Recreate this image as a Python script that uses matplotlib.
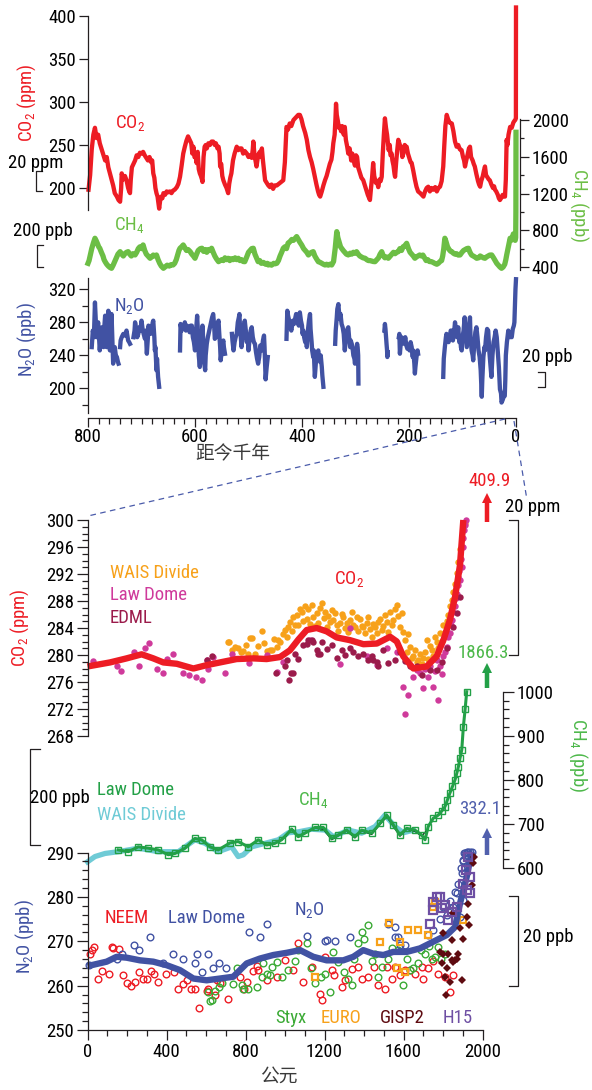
import os
import numpy as np
import matplotlib
matplotlib.use("Agg")
import matplotlib.pyplot as plt
from matplotlib import font_manager

NaN = np.nan

# ---------------- top panel: last 800 kyr (age in kyr BP) ----------------
co2_top = np.array([
    [799,198],[796,215],[793,245],[790,262],[787,270],[784,258],[781,262],[778,252],[775,246],[772,240],
    [768,232],[765,236],[762,224],[759,217],[756,210],[753,203],[750,194],[746,190],[743,186],[740,184],
    [738,200],[737,217],[734,210],[731,214],[728,209],[725,200],[723,196],[721.5,194],[720,210],[718,224],
    [715,228],[712,232],[709,238],[706,236],[703,241],[700,240],[697,242],[694,238],[691,235],[688,232],
    [685,236],[682,230],[680,232],[678,217],[676,212],[674,200],[672,194],[670,190],[668,180],[667,176],
    [665,186],[663,190],[661,188],[659,194],[656,192],[653,196],[650,195],[647,196],[644,194],[641,197],
    [638,198],[634,201],[631,205],[628,213],[625,226],[622,240],[619,248],[616,255],[613,260],[610,256],
    [607,252],[605,240],[603,248],[601,236],[599,238],[597,229],[595,242],[593,222],[591,217],[589,214],
    [587,210],[586,207],[584,236],[582,248],[580,250],[578,246],[575,252],[572,250],[569,254],[566,254],
    [563,250],[561,252],[558,246],[556,248],[554,240],[553,225],[551,228],[549,214],[547,209],[544,204],
    [541,200],[538,194],[536,205],[534,212],[532,217],[529,232],[526,240],[524,244],[522,248],[519,244],
    [516,246],[513,246],[510,240],[507,243],[503,240],[500,236],[497,238],[494,235],[492,245],[491,254],
    [489,240],[487,232],[485,225],[482,238],[479,242],[477,236],[475,246],[473,232],[471,220],[469,209],
    [466,206],[463,203],[460,201],[457,204],[454,199],[451,203],[447,203],[443,205],[439,207],[435,209],
    [432,230],[430,258],[429,271],[426,268],[423,275],[420,272],[416,279],[413,281],[410,283],[407,285],
    [404,285],[401,280],[398,272],[394,264],[391,256],[388,244],[385,236],[382,230],[379,222],[376,213],
    [373,204],[370,196],[368,192],[366,190],[363,196],[360,203],[357,209],[354,214],[351,221],[348,228],
    [345,233],[343,242],[341.5,252],[339,262],[337.5,280],[336.4,298],[335,285],[333,278],[331,270],[329,271],
    [327,266],[325,272],[322,262],[320,271],[318,256],[315.5,248],[313.5,240],[311,246],[308,232],[306,240],
    [304,233],[301,226],[299,238],[297,236],[295,224],[292,218],[289,212],[285.5,209],[283,204],[280,198],
    [277,192],[275,189],[273,186],[271,200],[269,212],[267,229],[265,214],[262,206],[260,208],[257.5,201],
    [255,210],[253,208],[251,213],[249,240],[247,262],[245,281],[243,270],[241,262],[239,250],[238,244],
    [236,250],[234.5,238],[232.5,240],[231,232],[229,226],[227,216],[226,213],[224,230],[222,244],[220,256],
    [218,252],[217,250],[214,246],[212.5,236],[210.6,240],[208,250],[206,244],[204.4,248],[202,240],[200,236],
    [197,230],[195,229],[192,220],[189,210],[186,201.5],[183,196],[179,194],[176,192],[173,190],[170,196],
    [167,200],[164,201.5],[161,196],[158,200],[154.6,198],[151,201],[148,196],[145,200],[142,201.5],[139,208],
    [136,225],[134,250],[132,272],[129.5,285],[127,280],[124,276],[120,275],[117,266],[114,254],[111,248],
    [108,250],[105,245],[101.7,244],[99,236],[97,232],[95.3,225],[93,232],[90,240],[88,246],[86,248],
    [84,236],[81,232],[79,228],[77,225],[74,216],[71,208],[69,204],[67,201.5],[65,208],[62,214],
    [60,220],[58,225],[56,215],[53,212],[51,210],[49,209],[46,204],[43,200],[41,202],[39.3,198],
    [37,196],[34,192],[32,188],[30,186],[28,188],[25,192],[22,190],[20.6,190],[19,210],[17.5,256],
    [16,250],[14,262],[12,268],[11,271],[8,270],[5,276],[3,278],[1.5,279],[0.2,281],[0,409.9],
])

ch4_top = np.array([
    [800,440],[798,470],[796,520],[793,600],[790,660],[787,713],[785,690],[782,650],[780,620],[778,604],
    [775,560],[772,520],[770,480],[768,458],[765,430],[762,410],[759,395],[756,386],[753,420],[750,460],
    [747,500],[744,540],[740,567],[737,540],[734,520],[731,545],[728,560],[725,567],[722,540],[719,520],
    [716,545],[712,531],[709,560],[706,600],[703,620],[700,600],[697,640],[694,580],[691,540],[688,520],
    [684,495],[681,510],[678,530],[675,520],[672,531],[669,480],[666,440],[663,410],[659,386],[656,400],
    [652,420],[648,410],[645,425],[641,422],[638,440],[635,480],[632,540],[630,580],[628,604],[625,620],
    [622,640],[619,610],[616,580],[613,590],[609,567],[606,540],[603,520],[600,495],[597,540],[594,580],
    [590,600],[587,604],[584,570],[581,590],[578,560],[575,590],[572,580],[569,604],[566,560],[563,520],
    [560,490],[556,458],[553,470],[550,480],[547,470],[544,500],[541,480],[538,495],[535,470],[532,490],
    [529,480],[525,500],[522,480],[519,495],[516,470],[513,480],[510,460],[507,458],[504,500],[500,560],
    [497,580],[494,600],[491,604],[488,540],[485,500],[482,458],[479,470],[476,440],[472,450],[468,430],
    [465,440],[463,422],[460,430],[457,420],[453,440],[450,435],[447,441],[444,470],[441,520],[438,560],
    [435,604],[432,620],[429,600],[426,660],[422.5,676],[419,700],[416,690],[413,710],[410,731],[407,700],
    [404,670],[400.6,640],[397,600],[394,580],[391,560],[388,531],[385,550],[382,560],[379,567],[376,520],
    [373,490],[369.5,458],[366,450],[363,440],[360,430],[357,422],[354,430],[351,420],[348,430],[344.5,422],
    [341,460],[338,600],[336,720],[335,785],[333,720],[330,660],[328,620],[326,604],[323,580],[320,560],
    [317,540],[313.5,531],[310,550],[307,540],[304,560],[301,550],[298,567],[295,540],[292,520],[289,510],
    [286,500],[282,495],[279,480],[276,470],[273,470],[270,465],[267,460],[263.5,458],[260,480],[257,500],
    [254,540],[251,567],[248,520],[245,500],[242,510],[238.7,495],[235,520],[232,540],[229,560],[226,545],
    [223,560],[220,567],[217,600],[214,580],[211,620],[208,630],[204.4,658],[201,600],[198,560],[195,540],
    [192,520],[189,495],[186,510],[183,520],[180,531],[177,520],[174,530],[171,500],[168,470],[165,480],
    [162,460],[158,458],[155,450],[152,440],[148,430],[145,441],[142,460],[139,470],[137,520],[135,600],
    [133,713],[131,680],[128,620],[125,590],[122,570],[120,567],[117,550],[114,540],[111,545],[108,530],
    [104.6,531],[101,560],[98,580],[95,590],[92,600],[89,604],[86,560],[83,530],[80,520],[77,510],
    [73.5,495],[70,500],[67,520],[64,510],[61,500],[58,495],[55,510],[52,520],[49,530],[45.4,531],
    [42,500],[39,470],[36,440],[33,420],[30,400],[27,386],[24,400],[21,430],[19,480],[17.4,531],
    [15,600],[13,660],[11,713],[9,690],[7,700],[5,760],[3,700],[1.5,690],[0.6,720],[0.2,1000],[0,1866.3],
])

n2o_top = np.array([
    [793,250],[791,270],[789,262],[787,304],[786,290],[784,262],[783,272],[781,280],[779,258],[778,246],
    [776,262],[774,274],[773,258],[771,250],[770,270],[768,288],[767,270],[765,250],[764,262],[762,294],
    [761,280],[759,246],[758,265],[756,290],[755,270],[753,230],[752,246],[750,250],[748,240],[746,238],
    [744,232],[743,230],[NaN,NaN],
    [740,250],[739,258],[737,262],[734,266],[731,264],[728,270],[726,262],[725,258],[723,256],[721.5,254],
    [NaN,NaN],
    [715,262],[713,270],[712,280],[710,272],[708,262],[706,266],[704,274],[702,270],[700,282],[698,272],
    [696,266],[693.5,260],[692,270],[690,242],[688,262],[687,276],[685,268],[683,266],[681,272],[679,280],
    [678,282],[676,262],[675,246],[674,250],[672,222],[671,236],[669,214],[668,208],[667,202],[NaN,NaN],
    [628,246],[627,278],[625,270],[623,276],[621,272],[619,280],[617,270],[615,276],[612,274],[610,268],
    [608,276],[606,276],[604,262],[602,256],[600,246],[598,270],[596,288],[594,262],[593,240],[591,226],
    [589,250],[588,262],[586,276],[584,250],[583,232],[581,222],[580,240],[578,254],[576,262],[574,268],
    [572,274],[570,280],[568,286],[566,290],[564,274],[563,260],[561,262],[559,272],[558,278],[556,282],
    [555,270],[553,250],[552,234],[550,246],[548,256],[547,258],[546,250],[544,242],[NaN,NaN],
    [531,266],[530,258],[528,246],[526,256],[524,262],[522,266],[520,280],[518,286],[517,290],[516,276],
    [514,258],[513,250],[511,262],[509,274],[507,282],[505,270],[503,256],[501,262],[500,246],[498,260],
    [496,270],[494,274],[492,262],[490,256],[488,254],[486,244],[484,236],[482,230],[480,238],[478,252],
    [477,250],[475,246],[473,258],[471,264],[470,250],[469,230],[468,211],[466,226],[464,238],[NaN,NaN],
    [429,260],[428,280],[427.5,294],[426,288],[424,282],[422,276],[420,270],[419,274],[417,282],[415,278],
    [413,284],[411,290],[410,286],[408,280],[406,276],[404,292],[402,282],[400,276],[399,266],[397.6,270],
    [396,262],[394,256],[392,262],[391,250],[389,270],[387,282],[385,290],[384,272],[382,256],[381,246],
    [379,238],[378,246],[376,214],[374,232],[372,240],[371,244],[369.5,246],[368,236],[366,232],[365,240],
    [363,226],[362,216],[360,202],[NaN,NaN],
    [338,254],[337,270],[335,286],[334,296],[332,302],[331,294],[329,284],[328,290],[326,278],[324,274],
    [322,266],[321,256],[320,246],[318,262],[316,270],[315,272],[313.5,274],[312,262],[310,250],[309,258],
    [307,254],[305,246],[304,240],[302,236],[301,230],[299,244],[298,250],[297,254],[296,250],[295,240],
    [294.5,206],[NaN,NaN],
    [246,270],[245,278],[244,272],[243,262],[242,254],[241,246],[240.5,238],[240,244],[NaN,NaN],
    [219,262],[218,266],[217,242],[216,250],[214,262],[212,256],[210.6,258],[209,254],[207,262],[205,252],
    [203,248],[201,250],[199,246],[197,256],[195,250],[193,238],[192,246],[190,230],[189,218],[188,226],
    [186,238],[184,246],[183,242],[NaN,NaN],
    [136,214],[135,236],[133,250],[131,262],[130,266],[128,262],[126,256],[124,262],[122,270],[120,270],
    [118,258],[116,266],[114,280],[112,270],[110,262],[108,274],[106,256],[104,262],[103,250],[101.5,246],
    [100,262],[98,270],[96,286],[94,268],[92,250],[90,262],[88,274],[86,286],[85,262],[83,246],
    [81,240],[80,234],[78,254],[76,268],[74,274],[72,262],[70,246],[68,238],[66,222],[64,190],
    [63,210],[61,238],[59,250],[58,246],[56,262],[54,272],[52,270],[50,246],[48,230],[46,214],
    [44,240],[42,256],[40,262],[38,270],[36,262],[34,244],[32,226],[30,199],[28,194],[27,183],
    [25,186],[23,190],[21,191],[20,210],[19,240],[17,256],[15,266],[14.4,270],[13,264],[11,262],
    [9,268],[8,262],[6,272],[4,276],[3,280],[2,300],[1,320],[0,332.1],
])

# ---------------- bottom panel: year CE ----------------
co2_spline = np.array([
    [0,278.3],[114,278.9],[198,279.5],[274,280.1],[333,279.5],[384,278.9],[452,278.7],[536,278.0],
    [604,278.5],[671,278.9],[755,279.4],[840,279.5],[907,279.4],[975,279.7],[1025,280.7],[1068,282.3],
    [1110,283.7],[1160,284.0],[1211,283.5],[1262,282.6],[1329,282.2],[1397,281.6],[1465,281.7],[1532,282.7],
    [1566,282.0],[1599,279.8],[1650,278.0],[1717,278.3],[1768,279.8],[1802,282.2],[1835,285.2],[1861,288.6],
    [1886,293.3],[1903,300.0],
])
co2_wais = np.array([
    [713,282],[715,281.9],[730,280.7],[745,281.2],[763,281],[775,280.4],[789,280.6],[800,281.5],[814,280.2],
    [823,282.5],[831,282.5],[848,280.2],[865,281.4],[882,283.6],[895,281.8],[907,280.6],[924,280.7],[933,280.7],
    [945,282.4],[958,281.2],[966,282.2],[975,282],[990,283.1],[1000,283.7],[1009,282.7],[1017,284.1],
    [1025,284.9],[1034,283.6],[1042,285.7],[1051,284.4],[1059,285.9],[1068,284.5],[1076,286.8],[1085,286.4],
    [1093,285],[1101,287.2],[1110,285.4],[1118,286.8],[1127,284.6],[1135,287.4],[1143,285.6],[1152,284.3],
    [1160,286.2],[1169,284.8],[1177,286.9],[1186,287.7],[1195,285.5],[1203,286.4],[1212,284.1],[1220,285.8],
    [1228,284.9],[1237,286.6],[1245,285.2],[1253,286.2],[1262,284.5],[1270,283.6],[1278,284.7],[1287,286.1],
    [1295,285.6],[1304,284],[1312,284.8],[1321,283.4],[1329,285.2],[1338,286.3],[1346,284.4],[1354,284.2],
    [1363,285.7],[1371,283.6],[1380,285.3],[1388,284.3],[1397,284.1],[1405,283.2],[1413,284.7],[1422,285.6],
    [1430,283.8],[1439,282.7],[1447,284.6],[1456,284.1],[1464,283.3],[1472,284.9],[1481,285.4],[1490,283.7],
    [1498,284.3],[1506,285.9],[1515,284.9],[1523,283.4],[1532,286.4],[1540,284.4],[1549,285.2],[1557,286.8],
    [1566,287.4],[1574,285.8],[1582,284.2],[1591,286.2],[1599,283.4],[1608,282.2],[1616,280.5],[1625,283.1],
    [1633,281.2],[1642,279.5],[1650,279.8],[1658,280.8],[1667,278.9],[1675,279.3],[1684,280.1],[1692,278.6],
    [1700,279.5],[1709,280.4],[1717,282.2],[1726,279.4],[1734,281.3],[1743,280.7],[1751,279.9],[1759,282.6],
    [1768,282],[1776,281],[1785,283.2],[1793,282.1],[1802,284.4],[1810,283.4],[1819,285.1],[1827,285.9],
    [1835,287.3],[1844,288.2],[1852,289.4],[1861,290.5],[1869,292.1],[1878,293.8],[1886,295.7],[1895,297.2],
    [1903,298.6],[1911,299.6],
])
co2_lawdome = np.array([
    [29,279.1],[148,278.3],[170,277.7],[235,280.5],[262,278.4],[291,281],[313,281.8],[354,277.9],[381,277.4],
    [401,279.4],[431,280.1],[482,277.3],[516,277],[549,276.8],[578,276.3],[604,279.3],[612,278],[634,279.7],
    [698,277.3],[730,280.2],[819,278.8],[907,280],[958,277.5],[991,279],[1127,282.2],[1278,278.7],[1329,284],
    [1413,279.8],[1465,278.5],[1515,281],[1566,280.5],[1599,275.3],[1608,271.3],[1624,274.1],[1650,276.8],
    [1667,277.8],[1684,277.3],[1700,275.1],[1709,277.9],[1725,276.8],[1734,278.4],[1751,275.3],[1759,277.6],
    [1776,273.3],[1768,279.3],[1785,278.3],[1793,277.2],[1802,279.8],[1810,280.4],[1819,281.2],[1827,282.6],
    [1835,283.2],[1840,284.5],[1844,285.2],[1852,286.4],[1861,287.2],[1865,288.4],[1869,289.1],[1874,290.3],
    [1878,291.5],[1882,292.5],[1886,291.1],[1890,294.2],[1895,293.1],[1899,296],[1903,297.4],[1907,298.5],
    [1911,299.3],[1915,300],
])
co2_edml = np.array([
    [604,279.3],[629,279.8],[955,277.4],[1000,278.3],[1009,279.3],[1022,276.3],[1030,277.3],[1039,277.3],
    [1051,280.2],[1068,279.4],[1093,281.5],[1110,281.7],[1118,282.2],[1135,282.2],[1143,282],[1160,280.7],
    [1169,280.2],[1177,280.2],[1186,282],[1211,280.9],[1236,281.5],[1262,279.6],[1287,280.7],[1304,280],
    [1329,281],[1346,280.5],[1371,279.8],[1397,280.2],[1422,279.3],[1439,279.8],[1447,279.3],[1465,279],
    [1472,278.3],[1498,280.7],[1523,278.8],[1557,279.3],[1582,280.5],[1608,279.1],[1633,278.3],[1667,278.3],
    [1692,277],[1734,277.8],[1768,277.8],[1793,279],[1819,281],[1852,284.2],[1869,286.2],[1886,288.6],
])

ch4_lawdome = np.array([
    [156,641],[207,637],[257,648],[308,645],[358,641],[409,630],[443,633],[494,645],[544,667],[578,664],
    [620,648],[662,641],[722,657],[763,660],[814,648],[865,664],[907,652],[949,656],[983,664],[1034,688],
    [1067,671],[1101,679],[1152,692],[1194,692],[1236,667],[1270,675],[1312,686],[1354,671],[1388,686],
    [1439,679],[1481,701],[1515,720],[1548,698],[1582,675],[1616,690],[1658,686],[1692,675],[1709,664],
    [1725,694],[1751,713],[1776,720],[1793,729],[1810,739],[1822,754],[1835,770],[1848,785],[1861,800],
    [1870,815],[1878,830],[1886,849],[1895,868],[1903,920],[1912,960],[1920,1000],
])
ch4_wais = np.array([
    [0,614],[38,626],[89,633],[156,637],[257,645],[358,637],[460,637],[544,664],[595,656],[662,637],
    [730,648],[763,626],[789,630],[831,648],[899,656],[966,664],[1017,680],[1067,682],[1135,688],[1203,686],
    [1245,671],[1321,686],[1388,679],[1456,694],[1506,720],[1557,694],[1600,680],[1650,686],
])
ch4_other = np.array([
    [1000,668],[1034,690],[1067,672],[1101,680],[1152,690],[1194,688],[1236,664],[1270,673],[1312,684],
    [1354,668],[1388,684],[1439,676],[1481,699],[1515,716],[1548,695],[1582,672],[1616,688],[1658,683],
    [1692,672],[1725,690],
])

n2o_spline = np.array([
    [0,264.4],[97,265.4],[148,266.5],[198,266.3],[266,265.7],[333,265.4],[401,264.6],[468,263.5],[536,261.6],
    [603,261.2],[671,261.6],[738,262],[806,265],[873,266.1],[941,266.9],[1009,267.4],[1076,268],[1143,266.5],
    [1211,265.7],[1295,265.7],[1346,266.5],[1396,268],[1447,267.2],[1498,266.9],[1548,267.6],[1616,267.6],
    [1684,268.4],[1751,269.9],[1819,271.4],[1861,273.2],[1886,278.5],[1920,284.5],[1945,290.2],
])
n2o_neem = np.array([
    [13,267.2],[21,268],[34,268.6],[55,261.6],[72,263.3],[110,262.6],[122,268.6],[128,268.5],[161,268.2],
    [181,262.3],[199,260.7],[220,260],[240,260.8],[259,263.1],[279,261.6],[300,261.6],[320,263.3],[337,262.6],
    [357,260.9],[398,262.7],[438,263],[458,259.3],[482,260.3],[502,261.2],[522,259.2],[546,259.3],[566,254.9],
    [604,258.9],[612,259.3],[646,257.8],[654,261.2],[671,260.6],[713,257],[772,262],[790,259.3],[806,260.8],
    [840,263.3],[857,264.4],[865,263.5],[907,261.2],[958,262],[1000,265.7],[1042,263.5],[1067,269.6],
    [1093,260.8],[1135,264.2],[1177,258.2],[1186,256.7],[1200,266.5],[1236,263.5],[1250,262.3],[1287,259.7],
    [1304,261.2],[1340,263.8],[1371,264.2],[1390,261.5],[1422,262],[1450,264.3],[1472,260.1],[1506,259.3],
    [1515,264.2],[1540,261.4],[1557,264.2],[1580,262.3],[1608,263.5],[1633,263.5],[1658,262.7],[1692,264.2],
    [1700,261.6],[1726,263.9],[1750,265.5],[1776,262.7],[1810,262],[1835,258.5],[1852,262.5],
])
n2o_styx = np.array([
    [612,258.6],[620,256.5],[629,256.7],[646,258.8],[667,259.7],[680,260.5],[738,260.3],[755,263.9],
    [781,260.1],[789,259.3],[814,259.3],[857,259.7],[882,262],[890,265],[907,262.7],[924,262.3],[933,264.2],
    [958,265.3],[983,262],[1017,263.5],[1050,265.5],[1067,268],[1110,269.5],[1130,264],[1152,260.5],
    [1180,262],[1203,262.7],[1230,258.5],[1245,267.6],[1270,265.3],[1300,263],[1321,261.6],[1338,260.1],
    [1350,266],[1371,269.5],[1388,272.1],[1400,270.5],[1422,273.6],[1440,265.5],[1456,267.2],[1470,262],
    [1490,264.2],[1523,266.1],[1540,268.5],[1574,268],[1599,260.1],[1620,266],[1633,263.5],[1650,264],
    [1675,265],[1690,268],[1709,267.2],[1730,269],[1743,266.1],[1760,266.5],[1776,268.7],[1790,266],
    [1810,267.2],
])
n2o_lawdome = np.array([
    [9,264.6],[148,266.1],[173,267.1],[237,269.1],[262,268.1],[315,271],[381,265.1],[435,267.1],[485,266],
    [544,265],[553,267.1],[578,263.1],[612,267.1],[634,264],[667,265],[700,264],[819,272.1],[873,271],
    [910,274],[1110,271.2],[1203,270.1],[1211,270.2],[1253,270.1],[1329,271],[1523,274],[1557,273.3],
    [1557,271],[1574,271],[1582,269.1],[1608,269.1],[1726,271.4],[1751,272.5],[1785,275],[1802,277.8],
    [1819,276],[1835,279],[1852,277.8],[1861,281],[1869,280.8],[1878,283],[1886,275.5],[1890,286.5],
    [1895,285.3],[1899,288],[1903,288.3],[1903,279.3],[1907,290],[1911,289.8],[1920,290.2],[1928,290.2],
    [1937,290.2],[1945,290.2],
])
n2o_euro = np.array([
    [1152,262],[1481,269.9],[1528,274.2],[1566,263.9],[1582,269.9],[1608,263.1],[1625,272.5],[1675,272.5],
    [1726,271.4],[1751,277.8],[1759,278.9],[1903,274.8],
])
n2o_gisp2 = np.array([
    [1785,267.6],[1793,265],[1802,267.2],[1802,271.8],[1810,262],[1815,257.8],[1819,263.9],[1827,267.2],
    [1835,260.8],[1844,265.7],[1844,270.3],[1852,265.4],[1852,276.3],[1861,265.7],[1869,266.1],[1878,267.2],
    [1886,272.9],[1895,261.2],[1903,270.6],[1920,275.5],[1928,278.5],[1933,273.6],[1945,282.7],[1953,287.6],
    [1955,289],
])
n2o_h15 = np.array([
    [1734,274],[1751,277],[1751,278.9],[1768,280],[1785,280],[1793,277.4],[1810,278.1],[1827,274.8],
    [1844,276.6],[1869,277.8],[1899,283],[1916,286],[1920,281.5],[1937,280.8],[1937,284.5],[1928,289],
])

# ---------------- style ----------------
RED = "#ED1C24"
GREEN_T = "#6CBE45"
BLUE = "#4152A3"
ORANGE = "#F7A11A"
MAGENTA = "#CF3A9B"
MAROON = "#9B1B4B"
DGREEN = "#23A047"
CYAN = "#6FCBD6"
SGREEN = "#3BAA35"
GMAROON = "#5E0B10"
PURPLE = "#6E4FA3"
INK = "#231F20"


def narrow_font():
    # a condensed sans face, if one is installed
    wanted = ["liberationsansnarrow-regular", "arialn.", "arialnarrow.", "notosans-condensed.",
              "opensans-condensedregular", "opensans_condensed-regular", "roboto-condensed",
              "robotocondensed-regular", "dejavusanscondensed."]
    files = [f.fname for f in font_manager.fontManager.ttflist]
    for w in wanted:
        for fn in files:
            if w in os.path.basename(fn).lower():
                return fn
    return None


nf = narrow_font()
if nf:
    font_manager.fontManager.addfont(nf)
    FONT = font_manager.FontProperties(fname=nf).get_name()
    plt.rcParams["font.stretch"] = "condensed"
    FS = 13.5
else:
    FONT, FS = "Liberation Sans", 12
plt.rcParams["font.family"] = [FONT, "DejaVu Sans"]
plt.rcParams["axes.linewidth"] = 0.9

W, H = 592, 1090
fig = plt.figure(figsize=(W / 100, H / 100), dpi=100)
PX = 0.72  # points per pixel


def px_axes(x0, x1, y0, y1):
    return fig.add_axes([x0 / W, 1 - y1 / H, (x1 - x0) / W, (y1 - y0) / H])


def style(ax, sides):
    ax.patch.set_visible(False)
    for s in ["top", "right", "left", "bottom"]:
        ax.spines[s].set_visible(s in sides)
        ax.spines[s].set_color(INK)
    ax.tick_params(colors=INK, labelcolor="black", labelsize=FS, width=0.9)
    if "bottom" not in sides:
        ax.set_xticks([])
    if "left" not in sides and "right" not in sides:
        ax.set_yticks([])


# --- top CO2
ax1 = px_axes(88, 516, 16, 210)
style(ax1, ["left"])
ax1.set_xlim(800, 0)
ax1.set_ylim(174.4, 400)
ax1.set_yticks([200, 250, 300, 350, 400])
ax1.tick_params(axis="y", direction="out", length=9 * PX, pad=2)
ax1.plot(co2_top[:, 0], co2_top[:, 1], color=RED, lw=3.1, clip_on=False, solid_joinstyle="round")

# --- top CH4
ax2 = px_axes(88, 516, 118, 272)
style(ax2, ["right"])
ax2.set_xlim(800, 0)
ax2.set_ylim(345.6, 2021.8)
ax2.spines["right"].set_position(("outward", 4 * PX))
ax2.spines["right"].set_bounds(365, 2015)
ax2.yaxis.tick_right()
ax2.set_yticks([400, 800, 1200, 1600, 2000])
ax2.set_yticks([600, 1000, 1400, 1800], minor=True)
ax2.tick_params(axis="y", which="major", length=9 * PX, pad=2)
ax2.tick_params(axis="y", which="minor", length=4 * PX, width=0.9, colors=INK)
ax2.plot(ch4_top[:, 0], ch4_top[:, 1], color=GREEN_T, lw=3.8, clip_on=False, solid_joinstyle="round")

# --- top N2O + age axis
ax3 = px_axes(88, 516, 275, 418)
style(ax3, ["left", "bottom"])
ax3.set_xlim(800, 0)
ax3.set_ylim(164.3, 337.2)
ax3.spines["left"].set_bounds(170.3, 333.6)
ax3.set_yticks([200, 240, 280, 320])
ax3.set_yticks([180, 220, 260, 300], minor=True)
ax3.tick_params(axis="y", which="major", length=9 * PX, pad=2)
ax3.tick_params(axis="y", which="minor", length=6 * PX, width=0.9, colors=INK)
ax3.set_xticks([800, 600, 400, 200, 0])
ax3.set_xticks(np.arange(20, 800, 20), minor=True)
ax3.tick_params(axis="x", which="major", length=9 * PX, pad=1)
ax3.tick_params(axis="x", which="minor", length=5.5 * PX, width=0.9, colors=INK)
ax3.plot(n2o_top[:, 0], n2o_top[:, 1], color=BLUE, lw=3.1, clip_on=False, solid_joinstyle="round")

# --- bottom CO2
ax4 = px_axes(87.5, 482.5, 520, 736)
style(ax4, ["left"])
ax4.set_xlim(0, 2000)
ax4.set_ylim(268, 300)
ax4.set_yticks(np.arange(268, 301, 4))
ax4.set_yticks(np.arange(268, 301, 1), minor=True)
ax4.tick_params(axis="y", which="major", length=11 * PX, pad=2)
ax4.tick_params(axis="y", which="minor", length=6 * PX, width=0.9, colors=INK)
mk = dict(ls="none", marker="o", ms=4.6, mew=0, clip_on=False)
ax4.plot(co2_wais[:, 0], co2_wais[:, 1], color=ORANGE, **mk)
ax4.plot(co2_lawdome[:, 0], co2_lawdome[:, 1], color=MAGENTA, **mk)
ax4.plot(co2_edml[:, 0], co2_edml[:, 1], color=MAROON, **mk)
ax4.plot(co2_spline[:, 0], co2_spline[:, 1], color=RED, lw=4.6, clip_on=False, solid_capstyle="butt")

# --- bottom CH4
ax5 = px_axes(87.5, 482.5, 691.7, 868)
style(ax5, ["right"])
ax5.set_xlim(0, 2000)
ax5.set_ylim(600, 1000)
ax5.spines["right"].set_position(("outward", 20.5 * PX))
ax5.yaxis.tick_right()
ax5.set_yticks([600, 700, 800, 900, 1000])
ax5.set_yticks(np.arange(600, 1001, 20), minor=True)
ax5.tick_params(axis="y", which="major", length=11 * PX, pad=2)
ax5.tick_params(axis="y", which="minor", length=6 * PX, width=0.9, colors=INK)
ax5.plot(ch4_wais[:, 0], ch4_wais[:, 1], color=CYAN, lw=3.8, clip_on=False, solid_joinstyle="round")
ax5.plot(ch4_other[:, 0], ch4_other[:, 1], color="black", lw=0.8, clip_on=False)
ax5.plot(ch4_lawdome[:, 0], ch4_lawdome[:, 1], color=DGREEN, lw=2.2, marker="s", ms=4.2,
         mfc="none", mec=DGREEN, mew=1.0, clip_on=False)

# --- bottom N2O + year axis
ax6 = px_axes(87.5, 482.5, 852.5, 1030)
style(ax6, ["left", "bottom"])
ax6.set_xlim(0, 2000)
ax6.set_ylim(250, 290)
ax6.set_yticks(np.arange(250, 291, 10))
ax6.set_yticks(np.arange(250, 291, 2), minor=True)
ax6.tick_params(axis="y", which="major", length=11 * PX, pad=2)
ax6.tick_params(axis="y", which="minor", length=6 * PX, width=0.9, colors=INK)
ax6.set_xticks(np.arange(0, 2001, 400))
ax6.set_xticks(np.arange(0, 2001, 100), minor=True)
ax6.tick_params(axis="x", which="major", length=10 * PX, pad=2)
ax6.tick_params(axis="x", which="minor", length=5.5 * PX, width=0.9, colors=INK)
oc = dict(ls="none", marker="o", ms=4.8, mfc="none", mew=1.0, clip_on=False)
ax6.plot(n2o_neem[:, 0], n2o_neem[:, 1], mec=RED, **oc)
ax6.plot(n2o_styx[:, 0], n2o_styx[:, 1], mec=SGREEN, **oc)
ax6.plot(n2o_lawdome[:, 0], n2o_lawdome[:, 1], mec=BLUE, **oc)
ax6.plot(n2o_euro[:, 0], n2o_euro[:, 1], ls="none", marker="s", ms=4.6, mfc="none", mec=ORANGE, mew=1.6, clip_on=False)
ax6.plot(n2o_spline[:, 0], n2o_spline[:, 1], color=BLUE, lw=4.6, clip_on=False, solid_capstyle="butt")
ax6.plot(n2o_gisp2[:, 0], n2o_gisp2[:, 1], ls="none", marker="D", ms=3.6, color=GMAROON, mew=0, clip_on=False)
ax6.plot(n2o_h15[:, 0], n2o_h15[:, 1], ls="none", marker="s", ms=5.2, mfc="none", mec=PURPLE, mew=1.6, clip_on=False)

# ---------------- annotation layer (figure pixels) ----------------
ov = fig.add_axes([0, 0, 1, 1])
ov.set_xlim(0, W)
ov.set_ylim(H, 0)
ov.axis("off")


def txt(x, y, s, color="black", size=FS, rot=0, ha="center", **kw):
    ov.text(x, y, s, color=color, fontsize=size, rotation=rot, ha=ha, va="center", **kw)


def bracket(x, y0, y1, dx):
    ov.plot([x + dx, x, x, x + dx], [y0, y0, y1, y1], color=INK, lw=0.9)


def arrow(x, y0, y1, color):
    ov.arrow(x, y0, 0, y1 - y0, width=4.5, head_width=10, head_length=10,
             length_includes_head=True, color=color, lw=0)


CO2 = r"CO$_\mathregular{2}$"
CH4 = r"CH$_\mathregular{4}$"
N2O = r"N$_\mathregular{2}$O"
CJK = ["Noto Sans CJK SC", "DejaVu Sans"]

# top panel labels
txt(27, 103, CO2 + " (ppm)", RED, rot=90)
txt(130, 124, CO2, RED)
txt(36, 163, "20 ppm")
bracket(36, 171, 191, 6)
txt(129, 226, CH4, GREEN_T)
txt(43, 231, "200 ppb")
bracket(36.5, 245, 267, 6)
txt(579, 205, CH4 + " (ppb)", GREEN_T, rot=-90)
txt(27, 340, N2O + " (ppb)", BLUE, rot=90)
txt(129, 307, N2O, BLUE)
txt(547, 357, "20 ppb")
bracket(545, 372, 387, -7)
txt(233, 454, "距今千年", "#3A3A3A", size=FS, family=CJK, fontstretch="normal")

# zoom connectors
ov.plot([505, 88], [419, 516], color="#4A5BAA", lw=0.9, ls=(0, (4.5, 3.5)))
ov.plot([514, 527], [421, 500], color="#4A5BAA", lw=0.9, ls=(0, (4.5, 3.5)))

# bottom panel labels
txt(490, 481, "409.9", RED)
arrow(487, 522, 493, RED)
txt(533, 507, "20 ppm")
bracket(518, 520, 655, -9)
txt(110, 573, "WAIS Divide", ORANGE, ha="left")
txt(110, 595, "Law Dome", MAGENTA, ha="left")
txt(110, 618, "EDML", MAROON, ha="left")
txt(349, 580, CO2, RED)
txt(20, 628, CO2 + " (ppm)", RED, rot=90)
txt(483, 653, "1866.3", "#4DB84A")
arrow(487, 688, 663, DGREEN)
txt(578, 755, CH4 + " (ppb)", "#4DB84A", rot=-90)
txt(97, 790, "Law Dome", DGREEN, ha="left")
txt(97, 815, "WAIS Divide", CYAN, ha="left")
txt(60, 798, "200 ppb")
bracket(29.5, 749, 845, 10)
txt(313, 801, CH4, "#4DB84A")
txt(480, 809, "332.1", "#5160AD")
arrow(487, 855, 828, "#5160AD")
txt(25, 937, N2O + " (ppb)", BLUE, rot=90)
txt(105, 918, "NEEM", RED, ha="left")
txt(168, 918, "Law Dome", BLUE, ha="left")
txt(309, 911, N2O, BLUE)
txt(548, 937, "20 ppb")
bracket(518, 896, 986, -9)
txt(275, 1018, "Styx", SGREEN, ha="left")
txt(321, 1018, "EURO", ORANGE, ha="left")
txt(380, 1018, "GISP2", GMAROON, ha="left")
txt(443, 1018, "H15", PURPLE, ha="left")
txt(279, 1076, "公元", "#3A3A3A", size=FS, family=CJK, fontstretch="normal")

fig.savefig("out.png", dpi=100)
